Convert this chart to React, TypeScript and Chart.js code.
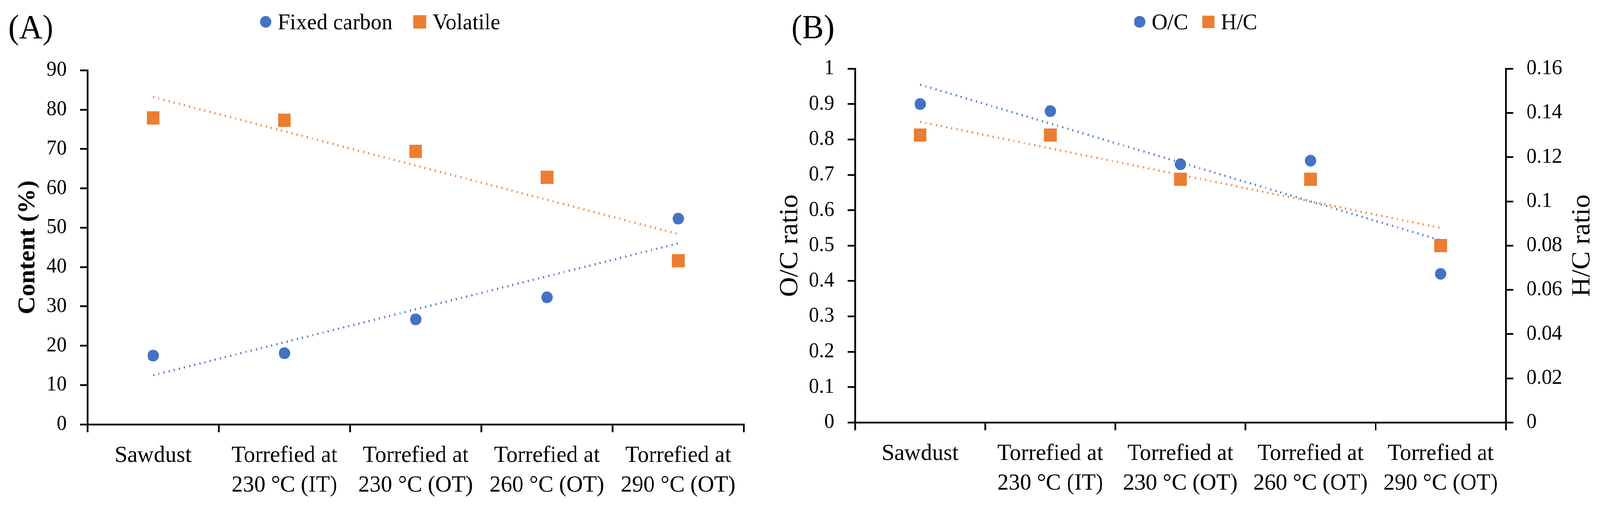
import { useEffect, useRef } from 'react';
import { Chart, registerables } from 'chart.js';

Chart.register(...registerables);

// ---------- data ----------
const categories: string[][] = [
  ['Sawdust'],
  ['Torrefied at', '230 °C (IT)'],
  ['Torrefied at', '230 °C (OT)'],
  ['Torrefied at', '260 °C (OT)'],
  ['Torrefied at', '290 °C (OT)'],
];

// Panel (A)
const fixedCarbon = [17.5, 18.1, 26.7, 32.3, 52.3];
const volatile = [77.9, 77.3, 69.4, 62.8, 41.6];
const fixedCarbonTrend = [12.5, null, null, null, 46.0];
const volatileTrend = [83.2, null, null, null, 48.4];
const contentAxis = [0, 90, 10]; // min, max, step

// Panel (B)
const ocRatio = [0.9, 0.88, 0.73, 0.74, 0.42];
const hcRatio = [0.13, 0.13, 0.11, 0.11, 0.08];
const ocTrend = [0.955, null, null, null, 0.515];
const hcTrend = [0.136, null, null, null, 0.088];
const ocAxis = [0, 1, 0.1];
const hcAxis = [0, 0.16, 0.02];

// ---------- style ----------
const W = 4242;
const H = 1301;
const BLUE = '#4472C4';
const ORANGE = '#ED7D31';
const FONT = "'Liberation Serif', 'Times New Roman', serif";
const AXIS_W = 4.5;

const fmt = (v: any) => `${+Number(v).toFixed(3)}`;

const overlayPlugin = {
  id: 'overlay',
  afterDraw(chart: any, _args: any, o: any) {
    const ctx = chart.ctx;
    ctx.save();
    ctx.fillStyle = '#000';
    ctx.textAlign = 'left';
    ctx.textBaseline = 'alphabetic';
    ctx.font = `${o.panelSize}px ${FONT}`;
    ctx.fillText(o.panelLabel, o.panelX, o.panelY);

    // legend
    ctx.font = `${o.legendSize}px ${FONT}`;
    const items = chart.data.datasets.filter((d: any) => d.showLine === false);
    const widths = items.map((d: any) => ctx.measureText(d.label).width);
    const mw = (d: any) => (d.pointStyle === 'circle' ? o.circleR * 2 : o.squareHalf * 2);
    let total = 0;
    items.forEach((d: any, i: number) => {
      total += mw(d) + o.markerGap + widths[i];
    });
    total += o.itemGap * (items.length - 1);
    let x = o.legendCenter - total / 2;
    items.forEach((d: any, i: number) => {
      ctx.fillStyle = d.backgroundColor;
      const w = mw(d);
      if (d.pointStyle === 'circle') {
        ctx.beginPath();
        ctx.arc(x + w / 2, o.markerY, o.circleR, 0, Math.PI * 2);
        ctx.fill();
      } else {
        ctx.fillRect(x, o.markerY - o.squareHalf, w, o.squareHalf * 2);
      }
      x += w + o.markerGap;
      ctx.fillStyle = '#000';
      ctx.fillText(d.label, x, o.legendBaseline);
      x += widths[i] + o.itemGap;
    });

    // right-side axis title (reads bottom to top)
    if (o.rightTitle) {
      const area = chart.chartArea;
      ctx.translate(o.rightTitleX, (area.top + area.bottom) / 2);
      ctx.rotate(-Math.PI / 2);
      ctx.textAlign = 'center';
      ctx.textBaseline = 'middle';
      ctx.font = `${o.rightTitleSize}px ${FONT}`;
      ctx.fillText(o.rightTitle, 0, 0);
    }
    ctx.restore();
  },
};

const pointSet = (label: string, data: number[], color: string, style: string, yAxisID = 'y') => ({
  label,
  data,
  yAxisID,
  showLine: false,
  pointStyle: style,
  pointRadius: style === 'circle' ? 15 : 24,
  pointHoverRadius: style === 'circle' ? 15 : 24,
  backgroundColor: color,
  borderColor: color,
  pointBorderWidth: 0,
  borderWidth: 0,
});

const trendSet = (data: (number | null)[], color: string, yAxisID = 'y') => ({
  label: '',
  data,
  yAxisID,
  spanGaps: true,
  pointRadius: 0,
  pointHoverRadius: 0,
  borderColor: color,
  backgroundColor: color,
  borderWidth: 5.5,
  borderDash: [3, 11],
  borderCapStyle: 'butt',
  fill: false,
  tension: 0,
});

const xScale = (height: number) => ({
  type: 'category',
  offset: true,
  grid: {
    display: true,
    offset: true,
    drawOnChartArea: false,
    drawTicks: true,
    tickLength: 20,
    color: '#000',
    lineWidth: AXIS_W,
  },
  border: { display: true, color: '#000', width: AXIS_W },
  ticks: {
    color: '#000',
    padding: 22,
    maxRotation: 0,
    minRotation: 0,
    autoSkip: false,
    font: { family: FONT, size: 60, lineHeight: 1.267 },
  },
  afterFit: (s: any) => {
    s.height = height;
  },
});

const yScale = (axis: number[], position: 'left' | 'right', width: number, title: any) => ({
  type: 'linear',
  position,
  min: axis[0],
  max: axis[1],
  grid: {
    display: true,
    drawOnChartArea: false,
    drawTicks: true,
    tickLength: 20,
    color: '#000',
    lineWidth: AXIS_W,
  },
  border: { display: true, color: '#000', width: AXIS_W },
  ticks: {
    stepSize: axis[2],
    color: '#000',
    padding: 35,
    font: { family: FONT, size: 54 },
    callback: fmt,
  },
  title,
  afterFit: (s: any) => {
    s.width = width;
  },
});

function makeA(canvas: HTMLCanvasElement) {
  return new Chart(canvas, {
    type: 'line',
    data: {
      labels: categories,
      datasets: [
        trendSet(fixedCarbonTrend, BLUE),
        trendSet(volatileTrend, ORANGE),
        pointSet('Fixed carbon', fixedCarbon, BLUE, 'circle'),
        pointSet('Volatile', volatile, ORANGE, 'rect'),
      ] as any,
    },
    options: {
      animation: false,
      responsive: false,
      devicePixelRatio: 1,
      layout: { padding: { top: 180, left: 0, right: 68, bottom: 0 } },
      plugins: {
        legend: { display: false },
        tooltip: { enabled: false },
        overlay: {
          panelLabel: '(A)',
          panelSize: 86,
          panelX: 22,
          panelY: 98,
          legendSize: 58,
          legendCenter: 1008,
          legendBaseline: 75,
          markerY: 56,
          circleR: 15,
          squareHalf: 17,
          markerGap: 17,
          itemGap: 55,
        },
      } as any,
      scales: {
        x: xScale(214),
        y: yScale(contentAxis, 'left', 232, {
          display: true,
          text: 'Content (%)',
          color: '#000',
          font: { family: FONT, size: 64, weight: 'bold', lineHeight: 1.2 },
          padding: { top: 36, bottom: 0 },
        }),
      } as any,
    },
    plugins: [overlayPlugin as any],
  });
}

function makeB(canvas: HTMLCanvasElement) {
  return new Chart(canvas, {
    type: 'line',
    data: {
      labels: categories,
      datasets: [
        trendSet(ocTrend, BLUE, 'y'),
        trendSet(hcTrend, ORANGE, 'y1'),
        pointSet('O/C', ocRatio, BLUE, 'circle', 'y'),
        pointSet('H/C', hcRatio, ORANGE, 'rect', 'y1'),
      ] as any,
    },
    options: {
      animation: false,
      responsive: false,
      devicePixelRatio: 1,
      layout: { padding: { top: 176, left: 0, right: 0, bottom: 0 } },
      plugins: {
        legend: { display: false },
        tooltip: { enabled: false },
        overlay: {
          panelLabel: '(B)',
          panelSize: 86,
          panelX: 58,
          panelY: 98,
          legendSize: 58,
          legendCenter: 1130,
          legendBaseline: 75,
          markerY: 56,
          circleR: 15,
          squareHalf: 16,
          markerGap: 17,
          itemGap: 38,
          rightTitle: 'H/C ratio',
          rightTitleSize: 70,
          rightTitleX: 2156,
        },
      } as any,
      scales: {
        x: xScale(219),
        y: yScale(ocAxis, 'left', 227, {
          display: true,
          text: 'O/C ratio',
          color: '#000',
          font: { family: FONT, size: 70, lineHeight: 1.2 },
          padding: { top: 14, bottom: 0 },
        }),
        y1: yScale(hcAxis, 'right', 250, { display: false }),
      } as any,
    },
    plugins: [overlayPlugin as any],
  });
}

export default function App() {
  const refA = useRef<HTMLCanvasElement>(null);
  const refB = useRef<HTMLCanvasElement>(null);

  const vw = typeof window !== 'undefined' && window.innerWidth ? window.innerWidth : W;
  const vh = typeof window !== 'undefined' && window.innerHeight ? window.innerHeight : H;
  const sx = vw / W;
  const sy = vh / H;

  useEffect(() => {
    const a = makeA(refA.current!);
    const b = makeB(refB.current!);
    return () => {
      a.destroy();
      b.destroy();
    };
  }, []);

  return (
    <div
      style={{
        position: 'fixed',
        left: 0,
        top: 0,
        width: W,
        height: H,
        background: '#fff',
        overflow: 'hidden',
        transform: `scale(${sx}, ${sy})`,
        transformOrigin: '0 0',
      }}
    >
      <canvas
        ref={refA}
        width={2040}
        height={H}
        style={{ position: 'absolute', left: 0, top: 0, width: 2040, height: H }}
      />
      <canvas
        ref={refB}
        width={2202}
        height={H}
        style={{ position: 'absolute', left: 2040, top: 0, width: 2202, height: H }}
      />
    </div>
  );
}
